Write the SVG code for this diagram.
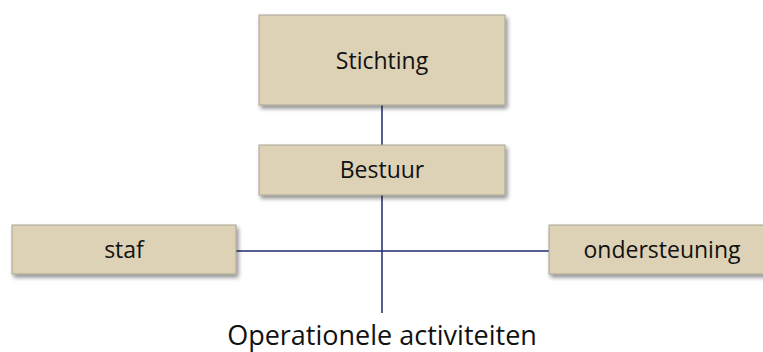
<svg xmlns="http://www.w3.org/2000/svg" width="763" height="352" viewBox="0 0 763 352">
<defs>
<filter id="sh" x="-10%" y="-20%" width="130%" height="150%">
<feGaussianBlur in="SourceAlpha" stdDeviation="2"/>
<feOffset dx="2" dy="3" result="b"/>
<feComponentTransfer><feFuncA type="linear" slope="0.45"/></feComponentTransfer>
<feMerge><feMergeNode/><feMergeNode in="SourceGraphic"/></feMerge>
</filter>
<style>
.box{fill:#ddd2b6;stroke:#a9a393;stroke-width:1;filter:url(#sh)}
.t{font-family:"Open Sans","Liberation Sans",sans-serif;font-size:23px;fill:#111;text-anchor:middle}
.c{stroke:#1f2a6b;stroke-width:1.5;fill:none}
</style>
</defs>
<rect width="763" height="352" fill="#fff"/>
<g id="connectors">
<line class="c" x1="382" y1="105" x2="382" y2="145"/>
<line class="c" x1="382" y1="195" x2="382" y2="313"/>
<line class="c" x1="236" y1="251" x2="549" y2="251"/>
</g>
<g id="stichting"><rect class="box" x="259" y="15" width="246" height="90"/><text class="t" x="382" y="69">Stichting</text></g>
<g id="bestuur"><rect class="box" x="259" y="145" width="246" height="50"/><text class="t" x="382" y="178">Bestuur</text></g>
<g id="staf"><rect class="box" x="12" y="225" width="224" height="49"/><text class="t" x="124" y="258">staf</text></g>
<g id="ondersteuning"><rect class="box" x="549" y="225" width="226" height="49"/><text class="t" x="662" y="258">ondersteuning</text></g>
<g id="operationele"><text class="t" x="382" y="345" style="font-size:27px">Operationele activiteiten</text></g>
</svg>
